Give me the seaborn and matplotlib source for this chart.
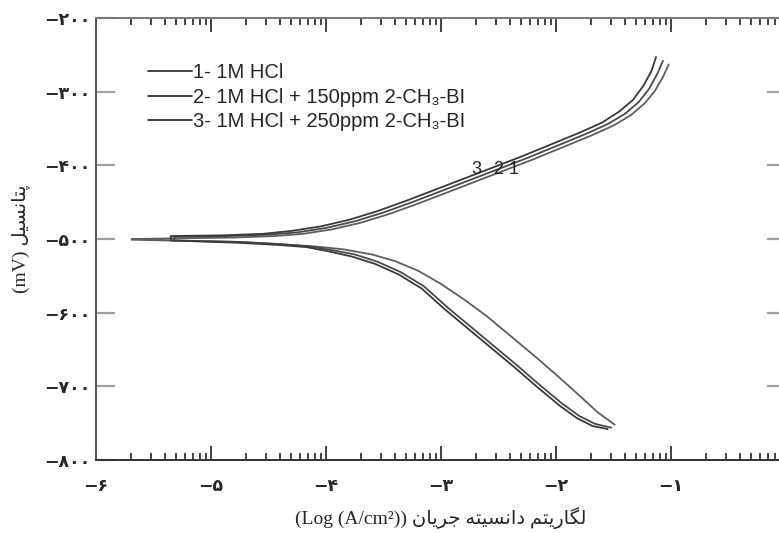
import numpy as np
import pandas as pd
import matplotlib
matplotlib.use("Agg")
import matplotlib.pyplot as plt
import seaborn as sns
from matplotlib.ticker import FixedLocator
from matplotlib.font_manager import FontProperties

# Tafel curves: log(i) [A/cm2] vs E [mV]
# cathodic branches (from the tip towards high current)
c1_cath_x = [-5.69, -4.75, -4.40, -4.10, -3.85, -3.60, -3.40, -3.20, -3.00, -2.80, -2.60, -2.40, -2.20, -2.00, -1.80, -1.64, -1.49]
c1_cath_y = [-501, -504, -507, -510, -514, -521, -530, -543, -561, -582, -605, -631, -657, -684, -712, -735, -752]
c2_cath_x = [-5.32, -4.75, -4.40, -4.15, -3.95, -3.75, -3.55, -3.35, -3.15, -2.95, -2.75, -2.55, -2.35, -2.15, -1.95, -1.80, -1.66, -1.52]
c2_cath_y = [-502, -504, -507, -510, -515, -521, -531, -545, -564, -592, -618, -644, -670, -697, -723, -740, -751, -756]
c3_cath_x = [-5.35, -4.78, -4.42, -4.17, -3.97, -3.77, -3.57, -3.37, -3.17, -2.97, -2.77, -2.57, -2.37, -2.17, -1.97, -1.82, -1.68, -1.55]
c3_cath_y = [-502, -505, -508, -511, -517, -524, -534, -548, -567, -595, -621, -647, -673, -700, -726, -743, -754, -758]

# anodic branches (from the tip towards high current)
c1_anod_x = [-5.69, -4.80, -4.45, -4.20, -3.95, -3.70, -3.45, -3.20, -2.95, -2.70, -2.45, -2.20, -1.95, -1.70, -1.50, -1.35, -1.23, -1.14, -1.07, -1.02]
c1_anod_y = [-500, -498, -496, -493, -487, -478, -466, -452, -437, -422, -407, -392, -376, -360, -346, -332, -316, -299, -280, -263]
c2_anod_x = [-5.32, -4.84, -4.50, -4.25, -4.00, -3.75, -3.50, -3.25, -3.00, -2.75, -2.50, -2.25, -2.00, -1.75, -1.55, -1.40, -1.28, -1.19, -1.12, -1.07]
c2_anod_y = [-497, -496, -494, -491, -485, -476, -464, -450, -435, -420, -405, -390, -374, -358, -344, -330, -314, -296, -276, -258]
c3_anod_x = [-5.35, -4.88, -4.55, -4.30, -4.05, -3.80, -3.55, -3.30, -3.05, -2.80, -2.55, -2.30, -2.05, -1.80, -1.60, -1.45, -1.33, -1.24, -1.17, -1.13]
c3_anod_y = [-496, -495, -493, -489, -483, -474, -462, -448, -433, -418, -403, -388, -372, -356, -342, -327, -311, -292, -272, -253]

labels = ["1- 1M HCl",
          "2- 1M HCl + 150ppm 2-CH\u2083-BI",
          "3- 1M HCl + 250ppm 2-CH\u2083-BI"]
colors = ["#5e5e5e", "#4a4a4a", "#3a3a3a"]

x_ticks = [-6, -5, -4, -3, -2, -1]
y_ticks = [-800, -700, -600, -500, -400, -300, -200]

# curve labels near the anodic branches
tag_text = ["3", "2", "1"]
tag_x = [-2.69, -2.50, -2.37]
tag_y = [-405, -405, -405]

FA_DIGITS = str.maketrans("0123456789", "\u06f0\u06f1\u06f2\u06f3\u06f4\u06f5\u06f6\u06f7\u06f8\u06f9")


def fa_num(v):
    s = str(abs(v)).translate(FA_DIGITS)
    return ("\u2212" + s) if v < 0 else s


def curve_frame(label, cx, cy, ax_, ay):
    x = list(reversed(cx)) + list(ax_)
    y = list(reversed(cy)) + list(ay)
    return pd.DataFrame({"log_i": x, "E": y, "curve": label})


df = pd.concat([
    curve_frame(labels[0], c1_cath_x, c1_cath_y, c1_anod_x, c1_anod_y),
    curve_frame(labels[1], c2_cath_x, c2_cath_y, c2_anod_x, c2_anod_y),
    curve_frame(labels[2], c3_cath_x, c3_cath_y, c3_anod_x, c3_anod_y),
], ignore_index=True)

sns.set_style("white")
plt.rcParams["font.family"] = ["Liberation Sans", "DejaVu Sans"]

fig = plt.figure(figsize=(7.79, 5.33), dpi=100)
ax = fig.add_axes([96 / 779, 1 - 460 / 533, 690 / 779, 442 / 533])

sns.lineplot(data=df, x="log_i", y="E", hue="curve", palette=colors,
             sort=False, estimator=None, linewidth=1.3, ax=ax)

ax.set_xlim(-6, 0)
ax.set_ylim(-800, -200)

# log style minor ticks inside each decade
minor = [d + np.log10(k) for d in range(-6, 0) for k in range(2, 10)]
ax.xaxis.set_major_locator(FixedLocator(x_ticks))
ax.xaxis.set_minor_locator(FixedLocator(minor))
ax.set_xticklabels([fa_num(v) for v in x_ticks], fontsize=12.5, fontweight="bold",
                   family="DejaVu Sans")
ax.set_yticks(y_ticks)
ax.set_yticklabels([fa_num(v) for v in y_ticks], fontsize=12.5, fontweight="bold",
                   family="DejaVu Sans")

ax.tick_params(axis="x", which="major", direction="in", length=10, width=1.2,
               color="#222222", top=True, bottom=True, pad=12)
ax.tick_params(axis="x", which="minor", direction="in", length=5, width=1.2,
               color="#222222", top=True, bottom=True)
ax.tick_params(axis="y", which="major", direction="in", length=14, width=1.6,
               color="#a0a0a0", left=True, right=True, pad=4)

for side in ["left", "bottom", "top", "right"]:
    ax.spines[side].set_visible(True)
    ax.spines[side].set_linewidth(1.4)
ax.spines["left"].set_color("#555555")
ax.spines["bottom"].set_color("#333333")
ax.spines["top"].set_color("#777777")
ax.spines["right"].set_color("#777777")

lab_fonts = ["Liberation Serif", "DejaVu Sans"]
# Persian words written in visual order with contextual forms
ax.set_ylabel("(mV) \ufede\ufbff\ufeb4\ufee7\ufe8e\ufe98\ufb58", fontsize=14,
              family=lab_fonts, labelpad=10)
ax.set_xlabel("(Log (A/cm\u00b2)) \ufee5\ufe8e\ufbfe\ufeae\ufe9f \ufeea\ufe98\ufbff\ufeb4\ufee7\ufe8d\ufea9 "
              "\ufee2\ufe98\ufbfe\ufead\ufe8e\ufb95\ufedf", fontsize=14,
              family=lab_fonts, labelpad=9)

for t, tx, ty in zip(tag_text, tag_x, tag_y):
    ax.text(tx, ty, t, fontsize=13, ha="center", va="center", color="#222222")

handles, leg_labels = ax.get_legend_handles_labels()
for h in handles:
    h.set_color("#333333")
ax.legend(handles, leg_labels, loc="upper left", bbox_to_anchor=(0.075, 0.898),
          frameon=False, borderpad=0, borderaxespad=0, handlelength=2.2,
          handletextpad=0.05, labelspacing=0.28,
          prop=FontProperties(family=["Liberation Sans", "DejaVu Sans"], size=14.5))

fig.savefig("out.png", dpi=100)
